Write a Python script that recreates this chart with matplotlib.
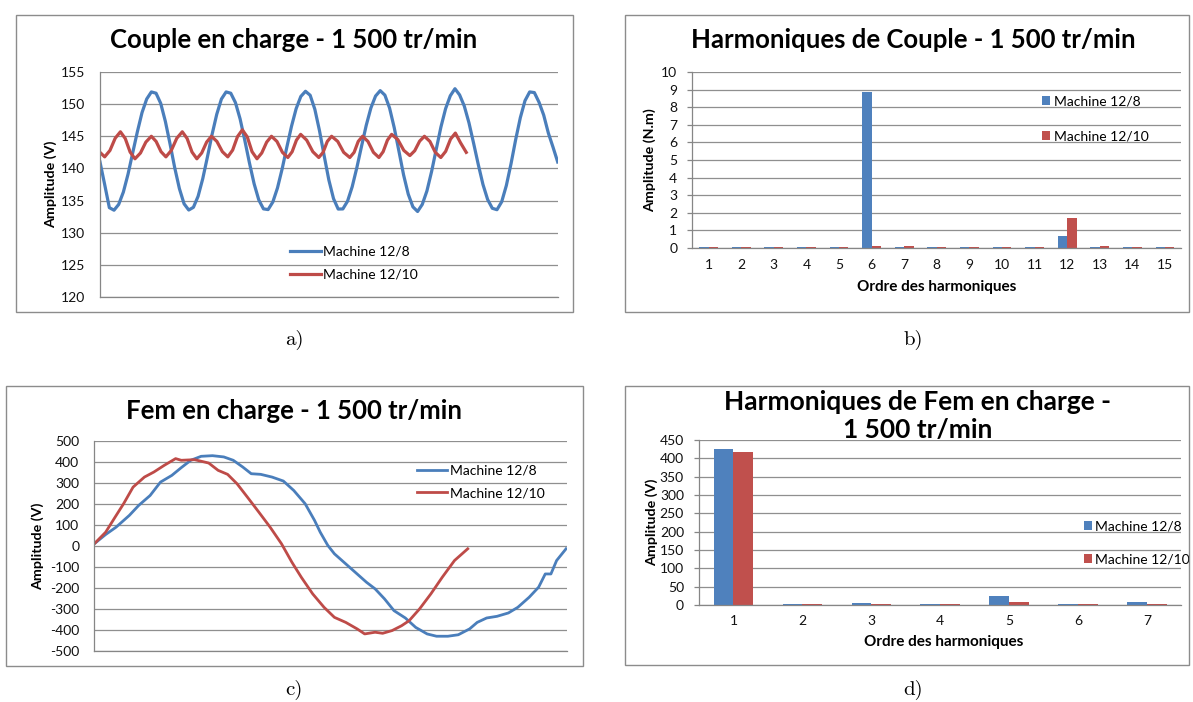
import numpy as np
import matplotlib
matplotlib.use("Agg")
import matplotlib.pyplot as plt
from matplotlib.patches import Rectangle

plt.rcParams['font.family'] = ['Lato', 'DejaVu Sans']
plt.rcParams['axes.unicode_minus'] = False

# ---------------- data ----------------
labels = ["Machine 12/8", "Machine 12/10"]

# a) Couple en charge (time in ms)
t_couple_128 = np.linspace(0, 5, 99)
couple_128 = [141.0, 137.5, 133.9, 133.5, 134.4, 136.32, 139.1, 142.42, 145.7, 148.69,
              150.8, 151.9, 151.7, 150.12, 147.3, 143.81, 140.1, 136.86, 134.5, 133.53,
              133.95, 135.66, 138.4, 141.78, 145.3, 148.43, 150.8, 151.9, 151.7, 150.24,
              147.7, 144.38, 140.85, 137.61, 135.1, 133.71, 133.6, 134.77, 136.96, 139.93,
              143.3, 146.54, 149.3, 151.2, 152.0, 151.38, 149.2, 145.86, 141.96, 138.2,
              135.3, 133.68, 133.7, 134.9, 137.15, 140.14, 143.45, 146.69, 149.4, 151.26,
              152.1, 151.4, 149.4, 146.33, 142.7, 139.0, 136.0, 134.02, 133.3, 134.4,
              136.5, 139.52, 143.0, 146.45, 149.3, 151.3, 152.4, 151.43, 149.7, 147.1,
              143.9, 140.59, 137.5, 135.16, 133.8, 133.58, 134.8, 137.33, 140.7, 144.48,
              147.9, 150.54, 151.9, 151.8, 150.3, 148.3, 145.5, 143.3, 141.0]
t_couple_1210 = [0, 0.051, 0.109, 0.166, 0.223, 0.276, 0.329, 0.382, 0.442, 0.501,
                 0.561, 0.613, 0.667, 0.720, 0.779, 0.839, 0.899, 0.952, 1.005, 1.058,
                 1.111, 1.165, 1.217, 1.277, 1.337, 1.396, 1.449, 1.502, 1.555, 1.609,
                 1.661, 1.715, 1.767, 1.821, 1.873, 1.933, 1.993, 2.052, 2.099, 2.146,
                 2.192, 2.258, 2.325, 2.390, 2.437, 2.483, 2.530, 2.597, 2.662, 2.729,
                 2.776, 2.821, 2.868, 2.927, 2.987, 3.047, 3.093, 3.140, 3.186, 3.253,
                 3.319, 3.385, 3.438, 3.492, 3.544, 3.604, 3.663, 3.723, 3.776, 3.829,
                 3.882, 3.938, 4.001]
couple_1210 = [142.5, 141.8, 142.8, 144.7, 145.7, 144.65, 142.55, 141.5, 142.4, 144.1,
               145.0, 144.2, 142.6, 141.8, 142.8, 144.7, 145.7, 144.65, 142.55, 141.5,
               142.4, 144.1, 145.0, 144.2, 142.6, 141.8, 142.85, 144.95, 146.0, 144.9,
               142.6, 141.5, 142.4, 144.1, 145.0, 144.2, 142.5, 141.7, 142.6, 144.4,
               145.3, 144.4, 142.6, 141.7, 142.5, 144.2, 145.0, 144.2, 142.5, 141.7,
               142.5, 144.2, 145.0, 144.2, 142.5, 141.7, 142.6, 144.4, 145.3, 144.5,
               142.8, 142.0, 142.75, 144.25, 145.0, 144.2, 142.5, 141.7, 142.65, 144.55,
               145.5, 144.0, 142.5]

# b) Harmoniques de couple
orders_couple = list(range(1, 16))
harm_couple_128 = [0.05, 0.05, 0.05, 0.05, 0.05, 8.85, 0.05, 0.05, 0.05, 0.05, 0.05, 0.66, 0.05, 0.05, 0.05]
harm_couple_1210 = [0.05, 0.05, 0.05, 0.05, 0.05, 0.12, 0.12, 0.05, 0.05, 0.05, 0.05, 1.72, 0.12, 0.05, 0.05]

# c) Fem en charge (time in ms)
t_fem_128 = [0.0, 0.12, 0.23, 0.37, 0.47, 0.59, 0.70, 0.82, 0.92, 1.02,
             1.13, 1.25, 1.37, 1.47, 1.57, 1.66, 1.76, 1.88, 2.00, 2.11,
             2.23, 2.33, 2.39, 2.47, 2.54, 2.66, 2.78, 2.88, 2.97, 3.07,
             3.17, 3.29, 3.40, 3.52, 3.62, 3.74, 3.85, 3.97, 4.05, 4.15,
             4.26, 4.38, 4.48, 4.60, 4.70, 4.77, 4.83, 4.89, 4.99]
fem_128 = [10, 54, 89, 145, 193, 240, 304, 336, 373, 408,
           427, 430, 424, 408, 376, 344, 341, 328, 309, 264,
           201, 121, 65, 2, -38, -86, -134, -174, -205, -253,
           -309, -344, -389, -420, -431, -431, -424, -396, -365, -344,
           -336, -320, -293, -245, -197, -134, -134, -70, -14]
t_fem_1210 = [0.0, 0.12, 0.22, 0.31, 0.41, 0.53, 0.63, 0.74, 0.86, 0.92,
              1.06, 1.21, 1.31, 1.41, 1.51, 1.62, 1.74, 1.86, 1.98, 2.09,
              2.19, 2.31, 2.43, 2.54, 2.66, 2.78, 2.86, 2.97, 3.05, 3.15,
              3.25, 3.33, 3.44, 3.56, 3.68, 3.81, 3.95]
fem_1210 = [10, 65, 137, 201, 280, 328, 352, 384, 416, 408,
            411, 395, 360, 341, 296, 232, 161, 89, 10, -78,
            -150, -229, -293, -341, -365, -396, -420, -412, -417, -404,
            -381, -357, -301, -229, -150, -70, -14]

# d) Harmoniques de Fem
orders_fem = list(range(1, 8))
harm_fem_128 = [425, 2.5, 5.5, 2.5, 24.6, 2.5, 8]
harm_fem_1210 = [416, 2.5, 2.5, 2.5, 8.2, 2.5, 2.5]

# ---------------- styling ----------------
W, H = 1193, 702
fig = plt.figure(figsize=(W / 100, H / 100), dpi=100)

BLUE_L, RED_L = '#4A7EBB', '#BE4B48'
BLUE_B, RED_B = '#4F81BD', '#C0504D'
GRID, AXC, TXT = '#8F8F8F', '#868686', '#111111'
TICK_FS, LEG_FS, TITLE_FS, YLAB_FS, XLAB_FS = 10, 10, 18.5, 10.3, 11


def px_axes(x0, y0, x1, y1):
    return fig.add_axes([x0 / W, 1 - y1 / H, (x1 - x0) / W, (y1 - y0) / H])


def box(x0, y0, x1, y1):
    fig.add_artist(Rectangle((x0 / W, 1 - y1 / H), (x1 - x0) / W, (y1 - y0) / H,
                             transform=fig.transFigure, fill=False,
                             edgecolor='#8C8C8C', lw=1.0))


def ftext(x, y, s, **kw):
    fig.text(x / W, 1 - y / H, s, ha='center', va='center', **kw)


def style(ax, ticklen):
    for s in ['top', 'right']:
        ax.spines[s].set_visible(False)
    for s in ['left', 'bottom']:
        ax.spines[s].set_color(AXC)
        ax.spines[s].set_linewidth(0.9)
    ax.grid(axis='y', color=GRID, lw=0.9)
    ax.set_axisbelow(True)
    ax.tick_params(axis='y', length=ticklen * 0.72, width=0.9, color=AXC,
                   pad=(15 - ticklen) * 0.72, labelsize=TICK_FS, labelcolor=TXT)


def legend(ax, handles, x, y, **kw):
    ax.legend(handles, labels, loc='upper left', bbox_to_anchor=(x / W, 1 - y / H),
              bbox_transform=fig.transFigure, frameon=False, borderpad=0,
              borderaxespad=0, fontsize=LEG_FS, **kw)


# boxes
box(15.7, 14.7, 573, 311.7)
box(624.7, 14.7, 1189, 312.3)
box(5.7, 386, 583.3, 665.7)
box(624.7, 386, 1189, 665)

# ---- a) ----
axa = px_axes(100, 72, 557.7, 297)
style(axa, 0)
la1, = axa.plot(t_couple_128, couple_128, color=BLUE_L, lw=2.3)
la2, = axa.plot(t_couple_1210, couple_1210, color=RED_L, lw=2.3)
axa.set_xlim(0, 5)
axa.set_ylim(120, 155)
axa.set_yticks(np.arange(120, 156, 5))
axa.set_xticks([])
axa.set_ylabel("Amplitude (V)", fontsize=YLAB_FS, fontweight='bold', va='center')
axa.yaxis.set_label_coords((50.5 - 100) / 457.7, 0.5)
legend(axa, [la1, la2], 290, 245.5, handlelength=2.2, handletextpad=0.2, labelspacing=0.8)
ftext(294, 40, "Couple en charge - 1 500 tr/min", fontsize=TITLE_FS, fontweight='bold')

# ---- b) ----
axb = px_axes(692.3, 72, 1181.3, 248)
style(axb, 5)
wb = 1 / 3.5
xb = np.array(orders_couple)
b1 = axb.bar(xb - wb / 2, harm_couple_128, width=wb, color=BLUE_B)
b2 = axb.bar(xb + wb / 2, harm_couple_1210, width=wb, color=RED_B)
axb.set_xlim(0.5, 15.5)
axb.set_ylim(0, 10)
axb.set_yticks(range(0, 11))
axb.set_xticks(orders_couple)
axb.tick_params(axis='x', length=0, pad=8.0, labelsize=TICK_FS, labelcolor=TXT)
axb.set_ylabel("Amplitude (N.m)", fontsize=YLAB_FS, fontweight='bold', va='center')
axb.yaxis.set_label_coords((649.3 - 692.3) / 489, 0.5)
axb.set_xlabel("Ordre des harmoniques", fontsize=XLAB_FS, fontweight='bold', va='center')
axb.xaxis.set_label_coords(0.5, (248 - 286.8) / 176)
legend(axb, [b1, b2], 1042, 95.5, handlelength=0.58, handleheight=0.58,
       handletextpad=0.25, labelspacing=1.65)
ftext(913, 40, "Harmoniques de Couple - 1 500 tr/min", fontsize=TITLE_FS, fontweight='bold')

# ---- c) ----
axc = px_axes(94.3, 441, 567, 650.7)
style(axc, 0)
lc1, = axc.plot(t_fem_128, fem_128, color=BLUE_L, lw=2.0)
lc2, = axc.plot(t_fem_1210, fem_1210, color=RED_L, lw=2.0)
axc.set_xlim(0, 5)
axc.set_ylim(-500, 500)
axc.set_yticks(np.arange(-500, 501, 100))
axc.set_xticks([])
axc.set_ylabel("Amplitude (V)", fontsize=YLAB_FS, fontweight='bold', va='center')
axc.yaxis.set_label_coords((38 - 94.3) / 472.7, 0.5)
legend(axc, [lc1, lc2], 416.5, 464.5, handlelength=2.2, handletextpad=0.2, labelspacing=0.78)
ftext(294, 411, "Fem en charge - 1 500 tr/min", fontsize=TITLE_FS, fontweight='bold')

# ---- d) ----
axd = px_axes(699, 440, 1181.3, 605)
style(axd, 5)
xd = np.array(orders_fem)
d1 = axd.bar(xd - wb / 2, harm_fem_128, width=wb, color=BLUE_B)
d2 = axd.bar(xd + wb / 2, harm_fem_1210, width=wb, color=RED_B)
axd.set_xlim(0.5, 7.5)
axd.set_ylim(0, 450)
axd.set_yticks(np.arange(0, 451, 50))
axd.set_xticks(orders_fem)
axd.tick_params(axis='x', length=0, pad=7.5, labelsize=TICK_FS, labelcolor=TXT)
axd.set_ylabel("Amplitude (V)", fontsize=YLAB_FS, fontweight='bold', va='center')
axd.yaxis.set_label_coords((651.6 - 699) / 482.3, 0.5)
axd.set_xlabel("Ordre des harmoniques", fontsize=XLAB_FS, fontweight='bold', va='center')
axd.xaxis.set_label_coords((943.4 - 699) / 482.3, (605 - 641.8) / 165)
legend(axd, [d1, d2], 1083.5, 520.5, handlelength=0.58, handleheight=0.58,
       handletextpad=0.25, labelspacing=1.52)
ftext(918, 402.5, "Harmoniques de Fem en charge -", fontsize=19, fontweight='bold')
ftext(918, 430.3, "1 500 tr/min", fontsize=19, fontweight='bold')

# sub-figure labels
for (x, y, s) in [(294, 340, "a)"), (913, 340, "b)"), (294, 690, "c)"), (913, 690, "d)")]:
    ftext(x, y, s, fontsize=15, family='cmr10')

fig.savefig("out.png", dpi=100, facecolor='white')
